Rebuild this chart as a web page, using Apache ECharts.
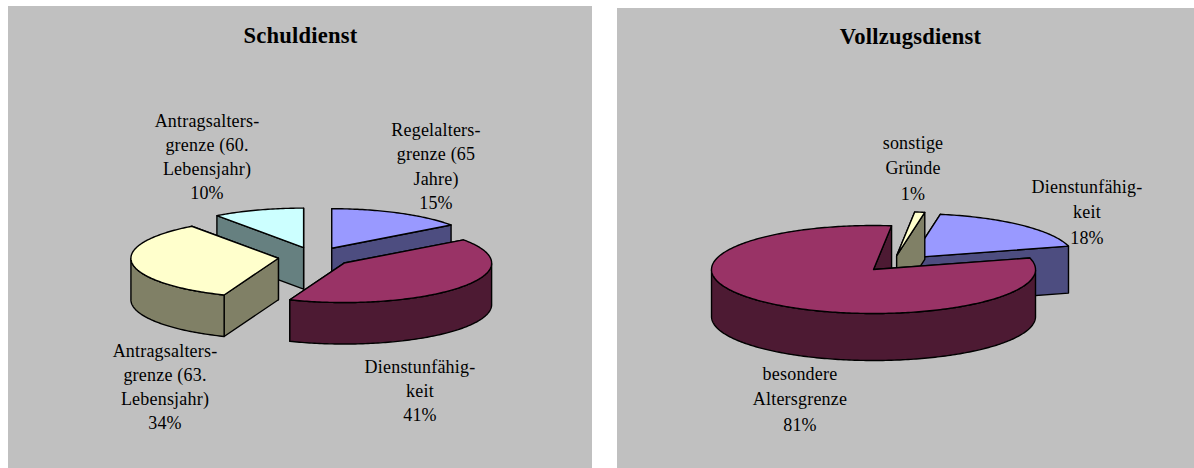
<!DOCTYPE html>
<html><head><meta charset="utf-8">
<style>html,body{margin:0;padding:0;background:#fff}#c{width:1194px;height:468px}
#c svg text{letter-spacing:.2px}</style>
<script src="https://cdn.jsdelivr.net/npm/echarts@6/dist/echarts.min.js"></script>
</head><body><div id="c"></div>
<script>
// --- data ---
const schulCategories = ['Regelalters-\ngrenze (65\nJahre)', 'Dienstunfähig-\nkeit', 'Antragsalters-\ngrenze (63.\nLebensjahr)', 'Antragsalters-\ngrenze (60.\nLebensjahr)'];
const schulValues = [15, 41, 34, 10];
const vollzugCategories = ['Dienstunfähig-\nkeit', 'besondere\nAltersgrenze', 'sonstige\nGründe'];
const vollzugValues = [18, 81, 1];
// --- styles / layout ---
const schulColors = [['#9999FF','#4D4D80'],['#993366','#4D1A33'],['#FFFFCC','#808066'],['#CCFFFF','#668080']];
const vollzugColors = [['#9999FF','#4D4D80'],['#993366','#4D1A33'],['#FFFFCC','#808066']];
const FONT = '"Liberation Serif", serif';
const pies = [
  {name:'Schuldienst', cats:schulCategories, vals:schulValues, colors:schulColors,
   cx:315, cy:257, rx:147.5, ry:39.5, depth:41.5, startDeg:0, explode:0.25, lineH:24.3,
   order:[3,0,2,1], labels:[[436,166.5],[420,391],[165,387],[207,157]]},
  {name:'Vollzugsdienst', cats:vollzugCategories, vals:vollzugValues, colors:vollzugColors,
   cx:892.5, cy:263.5, rx:162, ry:44, depth:47, startDeg:10, explode:0.18, lineH:25.5,
   order:[0,2,1], labels:[[1087,212],[800,399],[913,168]]}
];
function sliceShapes(p, i) {
  const total = p.vals.reduce((a,b)=>a+b,0);
  let a0 = p.startDeg;
  for (let k=0;k<i;k++) a0 += p.vals[k]/total*360;
  const a1 = a0 + p.vals[i]/total*360;
  const mid = (a0+a1)/2*Math.PI/180;
  const ax = p.cx + p.explode*p.rx*Math.sin(mid);
  const ay = p.cy - p.explode*p.ry*Math.cos(mid);
  const rim = d => [ax + p.rx*Math.sin(d*Math.PI/180), ay - p.ry*Math.cos(d*Math.PI/180)];
  const down = pt => [pt[0], pt[1]+p.depth];
  const apex = [ax,ay];
  const arc = [];
  const n = Math.max(2, Math.ceil((a1-a0)));
  for (let k=0;k<=n;k++) arc.push(a0+(a1-a0)*k/n);
  const [top, side] = p.colors[i];
  const st = (fill)=>({fill, stroke:'#000', lineWidth:1.4, lineJoin:'round'});
  const poly = (pts,fill)=>({type:'polygon', shape:{points:pts}, style:st(fill)});
  const wall = d => { const r=rim(d); return {y:r[1], el:poly([apex,r,down(r),down(apex)],side)}; };
  const walls = [wall(a0),wall(a1)].sort((u,v)=>u.y-v.y).map(w=>w.el);
  const outerEls = [];
  let front = [];
  const flush = ()=>{ if(front.length>1){ const t=front.map(rim); const b=front.map(d=>down(rim(d))).reverse(); outerEls.push(poly(t.concat(b),side)); } front=[]; };
  arc.forEach(d=>{ if(Math.cos(d*Math.PI/180)<=0.001) front.push(d); else flush(); });
  flush();
  const topEl = poly([apex].concat(arc.map(rim)), top);
  const [lx,ly] = p.labels[i];
  const text = {type:'text', x:lx, y:ly, style:{
    text:p.cats[i]+'\n'+p.vals[i]+'%', fill:'#000', font:'18px '+FONT,
    lineHeight:p.lineH, align:'center', verticalAlign:'middle', textAlign:'center', textVerticalAlign:'middle'}};
  return {type:'group', children:[...walls,...outerEls,topEl,text]};
}
const series = pies.map(p=>({
  type:'custom', coordinateSystem:'none', animation:false, silent:true,
  data:p.order.map(i=>[i, p.vals[i]]),
  renderItem:(params,api)=>sliceShapes(p, api.value(0))
}));
const chart = echarts.init(document.getElementById('c'),null,{renderer:'svg'});
chart.setOption({
  animation:false, backgroundColor:'#fff',
  graphic:[
    {type:'rect', z:-1, shape:{x:8,y:6,width:584,height:462}, style:{fill:'#C0C0C0'}},
    {type:'rect', z:-1, shape:{x:617,y:8,width:577,height:460}, style:{fill:'#C0C0C0'}}
  ],
  title:[
    {text:pies[0].name, left:295.5, top:30, textAlign:'center', textVerticalAlign:'middle', textStyle:{fontFamily:FONT,fontSize:22.6,fontWeight:'bold',color:'#000'}},
    {text:pies[1].name, left:905.5, top:31, textAlign:'center', textVerticalAlign:'middle', textStyle:{fontFamily:FONT,fontSize:22.6,fontWeight:'bold',color:'#000'}}
  ],
  series
});
</script></body></html>
